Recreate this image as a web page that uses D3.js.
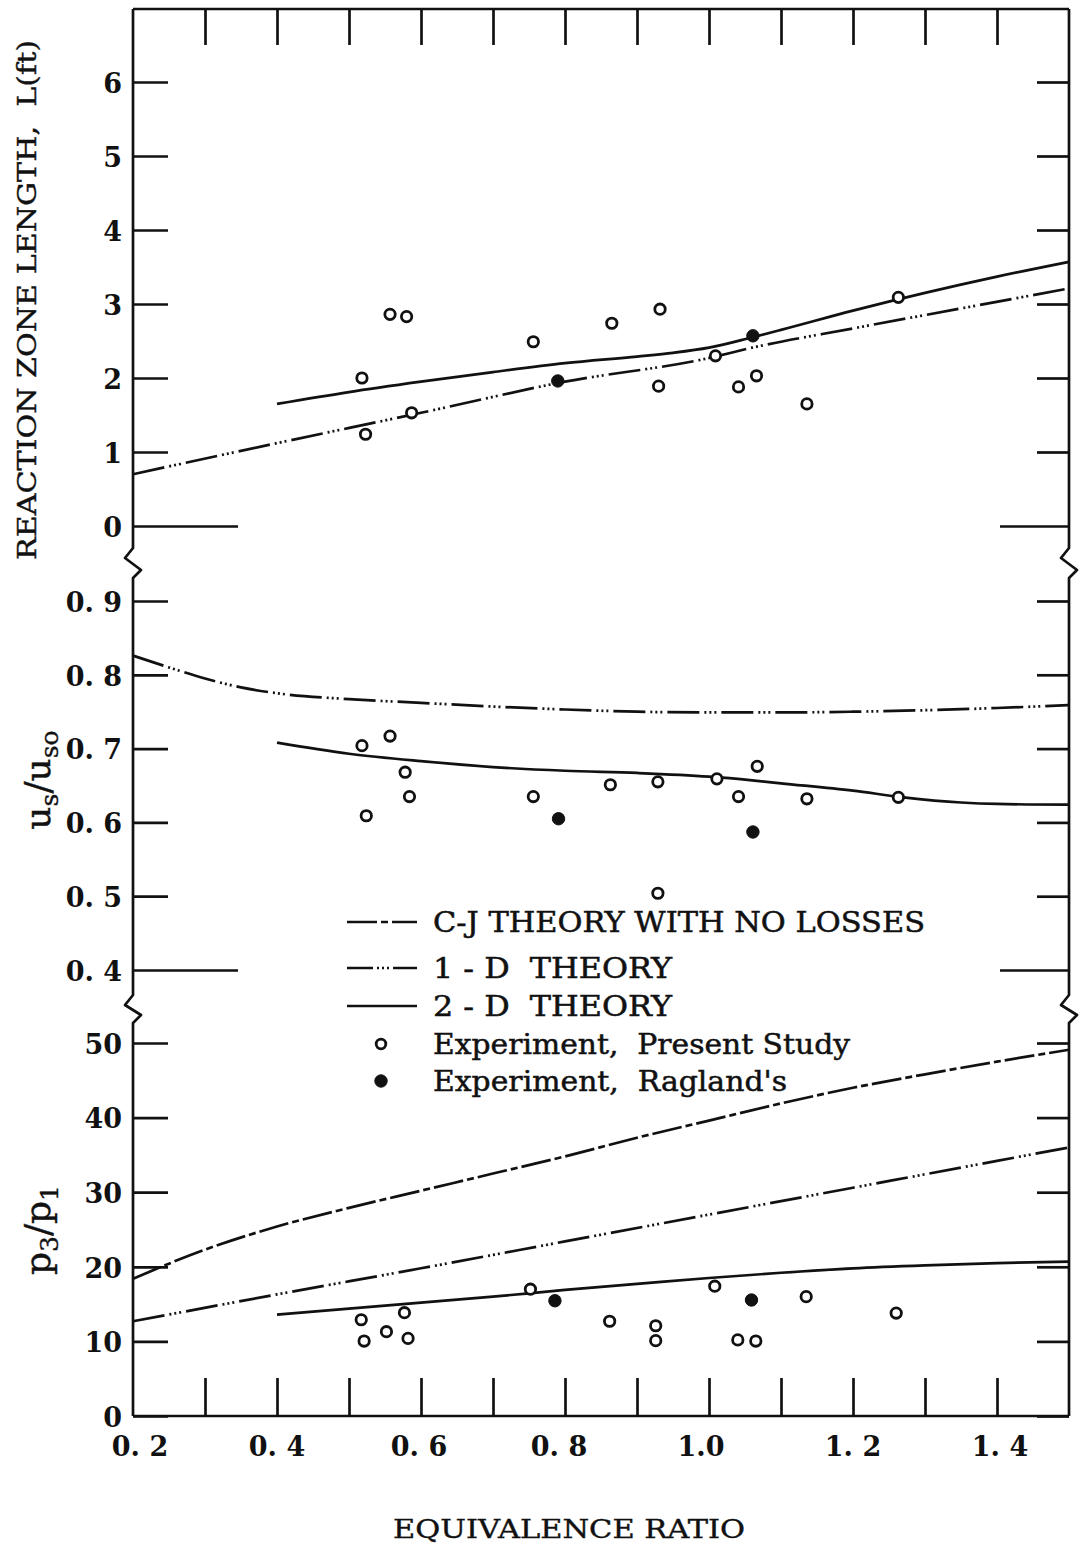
<!DOCTYPE html>
<html>
<head>
<meta charset="utf-8">
<script src="https://cdn.jsdelivr.net/npm/d3@7"></script>
<style>
  body { margin: 0; background: #fff; }
  svg text { fill: #111; }
</style>
</head>
<body>
<svg id="chart" width="1080" height="1546"></svg>
<script>
// ---- Axis ticks and labels -------------------------------------------
const phiTicks = [0.3, 0.4, 0.5, 0.6, 0.7, 0.8, 0.9, 1.0, 1.1, 1.2, 1.3, 1.4];
const phiLabelValues = [0.2, 0.4, 0.6, 0.8, 1.0, 1.2, 1.4];
const phiLabels = ["0. 2", "0. 4", "0. 6", "0. 8", "1.0", "1. 2", "1. 4"];

const lengthTicks = [0, 1, 2, 3, 4, 5, 6];
const lengthTickLabels = ["0", "1", "2", "3", "4", "5", "6"];
const speedTicks = [0.4, 0.5, 0.6, 0.7, 0.8, 0.9];
const speedTickLabels = ["0. 4", "0. 5", "0. 6", "0. 7", "0. 8", "0. 9"];
const pressureTicks = [0, 10, 20, 30, 40, 50];
const pressureTickLabels = ["0", "10", "20", "30", "40", "50"];

// ---- Reaction zone length L (ft) vs equivalence ratio -----------------
const lengthPresent = [
  [0.518, 2.00], [0.523, 1.24], [0.557, 2.86], [0.580, 2.83], [0.587, 1.53],
  [0.756, 2.49], [0.865, 2.74], [0.932, 2.93], [0.930, 1.89], [1.009, 2.30],
  [1.041, 1.88], [1.066, 2.03], [1.136, 1.65], [1.263, 3.09]
];
const lengthRagland = [[0.790, 1.96], [1.061, 2.57]];
const length1D = [
  [0.2, 0.70], [0.4, 1.12], [0.6, 1.53], [0.8, 1.95], [1.0, 2.27],
  [1.06, 2.41], [1.2, 2.67], [1.35, 2.94], [1.5, 3.21]
];
const length2D = [
  [0.4, 1.65], [0.5, 1.81], [0.6, 1.95], [0.7, 2.08], [0.8, 2.20], [0.9, 2.29],
  [0.95, 2.34], [1.0, 2.41], [1.06, 2.55], [1.1, 2.65], [1.2, 2.91],
  [1.3, 3.15], [1.4, 3.37], [1.5, 3.57]
];

// ---- Shock velocity ratio u_s/u_so ------------------------------------
const speedPresent = [
  [0.518, 0.704], [0.557, 0.717], [0.578, 0.668], [0.584, 0.635], [0.524, 0.609],
  [0.756, 0.635], [0.863, 0.651], [0.929, 0.655], [0.929, 0.504], [1.011, 0.659],
  [1.041, 0.635], [1.067, 0.676], [1.136, 0.632], [1.263, 0.634]
];
const speedRagland = [[0.791, 0.605], [1.061, 0.587]];
const speed1D = [
  [0.2, 0.826], [0.25, 0.810], [0.3, 0.795], [0.35, 0.783], [0.4, 0.775],
  [0.5, 0.767], [0.6, 0.762], [0.7, 0.757], [0.8, 0.753], [0.9, 0.750],
  [1.0, 0.749], [1.1, 0.749], [1.2, 0.750], [1.3, 0.752], [1.4, 0.755], [1.5, 0.759]
];
const speed2D = [
  [0.4, 0.708], [0.5, 0.693], [0.6, 0.683], [0.7, 0.675], [0.8, 0.670],
  [0.9, 0.667], [1.0, 0.662], [1.06, 0.657], [1.1, 0.653], [1.2, 0.643],
  [1.27, 0.634], [1.35, 0.627], [1.4, 0.625], [1.5, 0.624]
];

// ---- Pressure ratio p3/p1 ---------------------------------------------
const pressurePresent = [
  [0.517, 12.9], [0.521, 10.05], [0.552, 11.3], [0.577, 13.85], [0.582, 10.4],
  [0.752, 17.0], [0.862, 12.7], [0.926, 12.1], [0.926, 10.1], [1.008, 17.4],
  [1.040, 10.2], [1.065, 10.05], [1.135, 16.0], [1.260, 13.8]
];
const pressureRagland = [[0.786, 15.45], [1.059, 15.55]];
const pressureCJ = [
  [0.2, 18.4], [0.3, 22.3], [0.4, 25.4], [0.5, 27.9], [0.6, 30.2], [0.7, 32.5],
  [0.8, 34.8], [0.9, 37.3], [1.0, 39.6], [1.1, 41.9], [1.2, 44.0], [1.3, 45.8],
  [1.4, 47.5], [1.5, 49.1]
];
const pressure1D = [
  [0.2, 12.7], [0.4, 16.3], [0.6, 19.8], [0.8, 23.4], [1.0, 27.0],
  [1.2, 30.6], [1.4, 34.2], [1.5, 36.0]
];
const pressure2D = [
  [0.4, 13.6], [0.5, 14.4], [0.6, 15.2], [0.7, 16.0], [0.8, 16.9], [0.9, 17.7],
  [1.0, 18.5], [1.1, 19.2], [1.2, 19.8], [1.3, 20.2], [1.4, 20.5], [1.5, 20.7]
];

const legendLabels = [
  "C-J THEORY WITH NO LOSSES",
  "1 - D  THEORY",
  "2 - D  THEORY",
  "Experiment,  Present Study",
  "Experiment,  Ragland's"
];

// ---- Layout -----------------------------------------------------------
const svg = d3.select("#chart");
const frameLeft = 133, frameRight = 1069, frameTop = 9, frameBottom = 1416;
const serif = "'DejaVu Serif', 'Liberation Serif', serif";
const ink = "#111";

const x = d3.scaleLinear().domain([0.2, 1.5]).range([frameLeft, frameRight]);
const yL = d3.scaleLinear().domain([0, 6]).range([526, 82]);
const yU = d3.scaleLinear().domain([0.4, 0.9]).range([970, 601]);
const yP = d3.scaleLinear().domain([0, 50]).range([1416, 1043]);

const dash = {
  cj: "30,4,7,4",
  oneD: "32,5,2,3,2,3,2,5",
  twoD: null
};

// Frame with broken-scale zigzags on both vertical sides
function sideAxis(x0) {
  return `M${x0},${frameTop} V548 L${x0 - 8},558 L${x0 + 8},570 L${x0},578 ` +
         `V995 L${x0 - 8},1005 L${x0 + 8},1015 L${x0},1023 V${frameBottom}`;
}
const frame = svg.append("g").attr("fill", "none").attr("stroke", ink)
  .attr("stroke-width", 2.7).attr("stroke-linejoin", "round");
frame.append("path").attr("d", sideAxis(frameLeft));
frame.append("path").attr("d", sideAxis(frameRight));
frame.append("path").attr("d", `M${frameLeft},${frameTop} H${frameRight}`);
frame.append("path").attr("d", `M${frameLeft},${frameBottom} H${frameRight}`);

// Left axes (ticks point inward) with labels
function leftAxis(scale, ticks, labels, longValue) {
  const g = svg.append("g").attr("transform", `translate(${frameLeft},0)`)
    .call(d3.axisLeft(scale).tickValues(ticks).tickSize(-35).tickPadding(11)
      .tickFormat((d, i) => labels[i]));
  g.select(".domain").remove();
  g.selectAll(".tick line").attr("stroke", ink).attr("stroke-width", 2.7)
    .attr("x2", d => (d === longValue ? 105 : 35));
  g.selectAll(".tick text")
    .attr("font-family", serif).attr("font-size", 27).attr("font-weight", "bold")
    .attr("dy", "0.38em")
    .attr("fill", ink).style("white-space", "pre");
  g.attr("font-family", null).attr("font-size", null);
  return g;
}
function rightAxis(scale, ticks, longValue) {
  const g = svg.append("g").attr("transform", `translate(${frameRight},0)`)
    .call(d3.axisRight(scale).tickValues(ticks).tickSize(-32).tickFormat(""));
  g.select(".domain").remove();
  g.selectAll(".tick line").attr("stroke", ink).attr("stroke-width", 2.7)
    .attr("x2", d => (d === longValue ? -69 : -32));
}
leftAxis(yL, lengthTicks, lengthTickLabels, 0);
leftAxis(yU, speedTicks, speedTickLabels, 0.4);
leftAxis(yP, pressureTicks, pressureTickLabels, null);
rightAxis(yL, lengthTicks, 0);
rightAxis(yU, speedTicks, 0.4);
rightAxis(yP, pressureTicks, null);

// Top and bottom equivalence-ratio ticks
const gTop = svg.append("g").attr("transform", `translate(0,${frameTop})`)
  .call(d3.axisTop(x).tickValues(phiTicks).tickSize(-36).tickFormat(""));
gTop.select(".domain").remove();
gTop.selectAll(".tick line").attr("stroke", ink).attr("stroke-width", 2.7);

const gBottom = svg.append("g").attr("transform", `translate(0,${frameBottom})`)
  .call(d3.axisBottom(x).tickValues(phiTicks).tickSize(-38).tickFormat(""));
gBottom.select(".domain").remove();
gBottom.selectAll(".tick line").attr("stroke", ink).attr("stroke-width", 2.7);

const phiLabelShift = [7, 0, -2, -6, -8, 0, 3];
svg.append("g").selectAll("text").data(phiLabelValues).join("text")
  .attr("x", (d, i) => x(d) + phiLabelShift[i])
  .attr("y", 1456)
  .attr("text-anchor", "middle")
  .attr("font-family", serif).attr("font-size", 27).attr("font-weight", "bold")
  .style("white-space", "pre")
  .text((d, i) => phiLabels[i]);

// Theory curves
function curve(data, yScale, pattern) {
  const line = d3.line().x(d => x(d[0])).y(d => yScale(d[1])).curve(d3.curveMonotoneX);
  svg.append("path").datum(data).attr("d", line)
    .attr("fill", "none").attr("stroke", ink).attr("stroke-width", 2.7)
    .attr("stroke-dasharray", pattern);
}
curve(length1D, yL, dash.oneD);
curve(length2D, yL, dash.twoD);
curve(speed1D, yU, dash.oneD);
curve(speed2D, yU, dash.twoD);
curve(pressureCJ, yP, dash.cj);
curve(pressure1D, yP, dash.oneD);
curve(pressure2D, yP, dash.twoD);

// Experimental points
function points(data, yScale, filled) {
  svg.append("g").selectAll("circle").data(data).join("circle")
    .attr("cx", d => x(d[0])).attr("cy", d => yScale(d[1]))
    .attr("r", filled ? 6.2 : 5.2)
    .attr("fill", filled ? ink : "#fff")
    .attr("stroke", ink).attr("stroke-width", filled ? 1 : 2.8);
}
points(lengthPresent, yL, false);
points(lengthRagland, yL, true);
points(speedPresent, yU, false);
points(speedRagland, yU, true);
points(pressurePresent, yP, false);
points(pressureRagland, yP, true);

// Legend
const legendRows = [922, 968, 1006, 1044, 1081];
const legendWidths = [492, 239, 239, 417, 354];
const legendDash = [dash.cj, "26,4,2,3,2,3,2,4", dash.twoD];
const lg = svg.append("g");
legendRows.forEach((yy, i) => {
  if (i < 3) {
    lg.append("line").attr("x1", 347).attr("x2", 417).attr("y1", yy).attr("y2", yy)
      .attr("stroke", ink).attr("stroke-width", 2.6)
      .attr("stroke-dasharray", legendDash[i]);
  } else {
    lg.append("circle").attr("cx", 381).attr("cy", yy).attr("r", i === 3 ? 4.8 : 6.2)
      .attr("fill", i === 3 ? "#fff" : ink).attr("stroke", ink)
      .attr("stroke-width", i === 3 ? 2.8 : 1);
  }
  lg.append("text").attr("x", 433).attr("y", yy + 10)
    .attr("font-family", serif).attr("font-size", 27)
    .attr("stroke", ink).attr("stroke-width", 0.5)
    .attr("textLength", legendWidths[i]).attr("lengthAdjust", "spacingAndGlyphs")
    .style("white-space", "pre")
    .text(legendLabels[i]);
});

// Axis titles
svg.append("text")
  .attr("transform", "translate(36,300) rotate(-90)")
  .attr("text-anchor", "middle")
  .attr("font-family", serif).attr("font-size", 26)
  .attr("stroke", ink).attr("stroke-width", 0.4)
  .attr("textLength", 520).attr("lengthAdjust", "spacingAndGlyphs")
  .style("white-space", "pre")
  .text("REACTION ZONE LENGTH,  L(ft)");

const tU = svg.append("text")
  .attr("transform", "translate(50,780) rotate(-90)")
  .attr("text-anchor", "middle")
  .attr("font-family", serif).attr("font-size", 36)
  .attr("stroke", ink).attr("stroke-width", 0.4);
tU.append("tspan").text("u");
tU.append("tspan").attr("font-size", 25).attr("dy", 8).text("s");
tU.append("tspan").attr("dy", -8).text("/u");
tU.append("tspan").attr("font-size", 25).attr("dy", 8).text("so");

const tP = svg.append("text")
  .attr("transform", "translate(50,1230) rotate(-90)")
  .attr("text-anchor", "middle")
  .attr("font-family", serif).attr("font-size", 36)
  .attr("stroke", ink).attr("stroke-width", 0.4);
tP.append("tspan").text("p");
tP.append("tspan").attr("font-size", 25).attr("dy", 8).text("3");
tP.append("tspan").attr("dy", -8).text("/p");
tP.append("tspan").attr("font-size", 25).attr("dy", 8).text("1");

svg.append("text")
  .attr("x", 569).attr("y", 1538)
  .attr("text-anchor", "middle")
  .attr("font-family", serif).attr("font-size", 26)
  .attr("stroke", ink).attr("stroke-width", 0.4)
  .attr("textLength", 352).attr("lengthAdjust", "spacingAndGlyphs")
  .text("EQUIVALENCE RATIO");
</script>
</body>
</html>
